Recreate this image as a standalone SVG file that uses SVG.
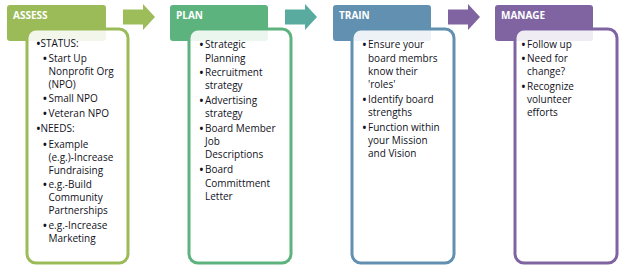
<svg xmlns="http://www.w3.org/2000/svg" width="624" height="275" viewBox="0 0 624 275">
<style>
.hdr{stroke:none}
.box{fill:#ffffff;fill-opacity:0.88;stroke-width:3}
.ht{font-family:"Open Sans","Liberation Sans",sans-serif;font-size:10px;font-weight:bold;fill:#ffffff}
.bt{font-family:"Open Sans","Liberation Sans",sans-serif;font-size:10px;fill:#111122}
.bt text{font-weight:bold}
.bt tspan{font-weight:normal}
</style>
<rect width="624" height="275" fill="#ffffff"/>
<g id="connectors">
<polygon points="123,9.5 143,9.5 143,4 155,17 143,30 143,24.5 123,24.5" fill="#9dbd5a"/>
<polygon points="285,9.5 305,9.5 305,4 317,17 305,30 305,24.5 285,24.5" fill="#5aab9f"/>
<polygon points="448,9.5 468,9.5 468,4 480,17 468,30 468,24.5 448,24.5" fill="#8064a2"/>
</g>
<g id="assess">
<rect class="hdr" x="7" y="5" width="99" height="36" rx="3" fill="#9bbb59"/>
<text class="ht" x="13" y="19">ASSESS</text>
<rect class="box" x="27" y="29" width="101" height="234" rx="9" stroke="#9bbb59"/>
<g class="bt">
<text x="36.5" y="47">•<tspan x="40.5">STATUS:</tspan></text>
<text x="43" y="61.5">•<tspan x="48.5">Start Up</tspan></text>
<text x="48.5" y="74.5"><tspan>Nonprofit Org</tspan></text>
<text x="48.5" y="87.5"><tspan>(NPO)</tspan></text>
<text x="43" y="102">•<tspan x="48.5">Small NPO</tspan></text>
<text x="43" y="116.5">•<tspan x="48.5">Veteran NPO</tspan></text>
<text x="36.5" y="131.5">•<tspan x="40.5">NEEDS:</tspan></text>
<text x="43" y="147.5">•<tspan x="48.5">Example</tspan></text>
<text x="48.5" y="160.5"><tspan>(e.g.)-Increase</tspan></text>
<text x="48.5" y="173.5"><tspan>Fundraising</tspan></text>
<text x="43" y="188.3">•<tspan x="48.5">e.g.-Build</tspan></text>
<text x="48.5" y="201.3"><tspan>Community</tspan></text>
<text x="48.5" y="214.3"><tspan>Partnerships</tspan></text>
<text x="43" y="229">•<tspan x="48.5">e.g.-Increase</tspan></text>
<text x="48.5" y="242.3"><tspan>Marketing</tspan></text>
</g>
</g>
<g id="plan">
<rect class="hdr" x="170" y="5" width="98" height="36" rx="3" fill="#5db37e"/>
<text class="ht" x="176" y="19">PLAN</text>
<rect class="box" x="189" y="29" width="102" height="234" rx="9" stroke="#5db37e"/>
<g class="bt">
<text x="199.5" y="48">•<tspan x="205">Strategic</tspan></text>
<text x="205" y="61.5"><tspan>Planning</tspan></text>
<text x="199.5" y="76">•<tspan x="205">Recruitment</tspan></text>
<text x="205" y="89"><tspan>strategy</tspan></text>
<text x="199.5" y="104">•<tspan x="205">Advertising</tspan></text>
<text x="205" y="117"><tspan>strategy</tspan></text>
<text x="199.5" y="131.5">•<tspan x="205">Board Member</tspan></text>
<text x="205" y="145"><tspan>Job</tspan></text>
<text x="205" y="158.3"><tspan>Descriptions</tspan></text>
<text x="199.5" y="173">•<tspan x="205">Board</tspan></text>
<text x="205" y="186.5"><tspan>Committment</tspan></text>
<text x="205" y="199.5"><tspan>Letter</tspan></text>
</g>
</g>
<g id="train">
<rect class="hdr" x="333" y="5" width="98" height="36" rx="3" fill="#6190b0"/>
<text class="ht" x="339" y="19">TRAIN</text>
<rect class="box" x="352" y="29" width="102" height="234" rx="9" stroke="#6190b0"/>
<g class="bt">
<text x="362.5" y="48">•<tspan x="368">Ensure your</tspan></text>
<text x="368" y="62"><tspan>board membrs</tspan></text>
<text x="368" y="75"><tspan>know their</tspan></text>
<text x="368" y="88"><tspan>'roles'</tspan></text>
<text x="362.5" y="102.5">•<tspan x="368">Identify board</tspan></text>
<text x="368" y="115.5"><tspan>strengths</tspan></text>
<text x="362.5" y="130.5">•<tspan x="368">Function within</tspan></text>
<text x="368" y="143.7"><tspan>your Mission</tspan></text>
<text x="368" y="156.7"><tspan>and Vision</tspan></text>
</g>
</g>
<g id="manage">
<rect class="hdr" x="495" y="5" width="98" height="36" rx="3" fill="#8064a2"/>
<text class="ht" x="501" y="19">MANAGE</text>
<rect class="box" x="515" y="29" width="102" height="234" rx="9" stroke="#8064a2"/>
<g class="bt">
<text x="521.5" y="48">•<tspan x="527">Follow up</tspan></text>
<text x="521.5" y="62">•<tspan x="527">Need for</tspan></text>
<text x="527" y="75"><tspan>change?</tspan></text>
<text x="521.5" y="89.5">•<tspan x="527">Recognize</tspan></text>
<text x="527" y="102.5"><tspan>volunteer</tspan></text>
<text x="527" y="116"><tspan>efforts</tspan></text>
</g>
</g>
</svg>
